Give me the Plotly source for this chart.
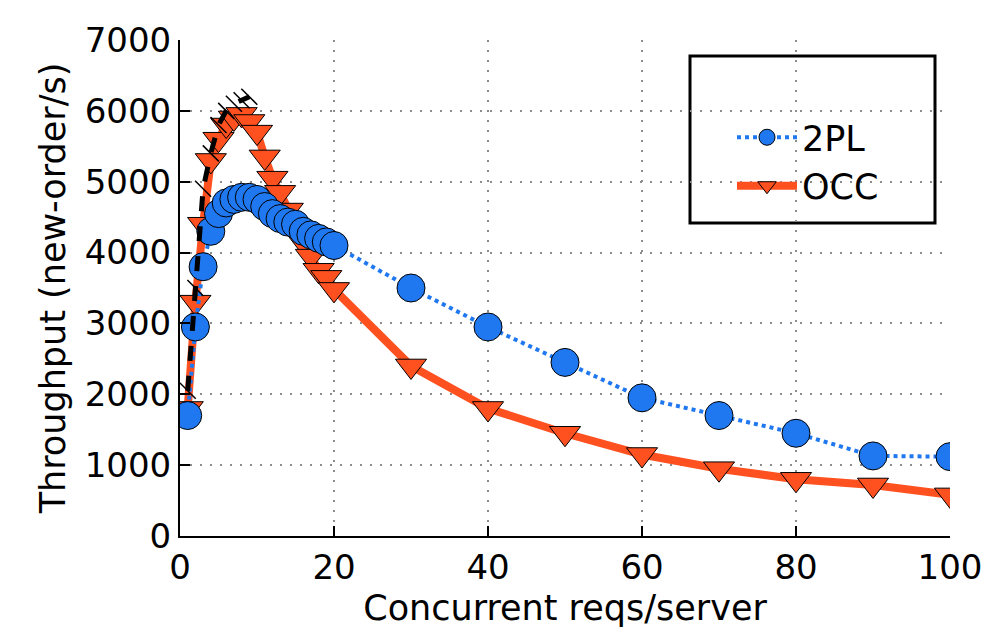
import plotly.graph_objects as go

x_vals = [1, 2, 3, 4, 5, 6, 7, 8, 9, 10, 11, 12, 13, 14, 15, 16, 17, 18, 19, 20,
          30, 40, 50, 60, 70, 80, 90, 100]
tpl_vals = [1700, 2950, 3800, 4300, 4550, 4700, 4750, 4780, 4780, 4750, 4650, 4550,
            4480, 4430, 4400, 4300, 4250, 4200, 4150, 4100,
            3500, 2950, 2450, 1950, 1700, 1450, 1130, 1120]
occ_vals = [1800, 3300, 4400, 5300, 5600, 5800, 5900, 5950, 5850, 5700, 5350, 5050,
            4850, 4600, 4350, 4150, 3950, 3750, 3650, 3480,
            2400, 1800, 1450, 1150, 950, 800, 720, 580]
extra_x = [1, 2, 3, 4, 5, 6, 7, 8, 9]
extra_vals = [2050, 3500, 4900, 5400, 5800, 6000, 6100, 6150, 6200]

x_ticks = [0, 20, 40, 60, 80, 100]
y_ticks = [0, 1000, 2000, 3000, 4000, 5000, 6000, 7000]

BLUE = "#1f78f0"
ORANGE = "#ff5020"
FONT = "DejaVu Sans"

# page offset of the html body (default 8px margin)
OFF = 8
PL, PR, PT, PB = 180, 950, 40, 536  # plot area in page pixels


def px_x(p):
    return (p - PL) / (PR - PL)


def px_y(p):
    return (PB - p) / (PB - PT)


fig = go.Figure()

fig.add_trace(go.Scatter(
    x=x_vals, y=occ_vals, name="OCC", mode="lines+markers",
    line=dict(color=ORANGE, width=8),
    marker=dict(symbol="triangle-down", size=27, color=ORANGE,
                line=dict(color="black", width=1)),
    legendrank=2,
))
fig.add_trace(go.Scatter(
    x=x_vals, y=tpl_vals, name="2PL", mode="lines+markers",
    line=dict(color=BLUE, width=4, dash="dot"),
    marker=dict(symbol="circle", size=28, color=BLUE,
                line=dict(color="black", width=1)),
    legendrank=1,
))
fig.add_trace(go.Scatter(
    x=extra_x, y=extra_vals, mode="lines+markers", showlegend=False,
    line=dict(color="black", width=5, dash="dash"),
    marker=dict(symbol="line-nw", size=16, color="black",
                line=dict(color="black", width=1.5)),
))

fig.add_shape(type="rect", xref="paper", yref="paper",
              x0=px_x(690), x1=px_x(935), y0=px_y(223), y1=px_y(56),
              line=dict(color="black", width=3), fillcolor="white", layer="below")

GRID = dict(showgrid=True, gridcolor="#8c8c8c", griddash="2px,8px", gridwidth=2)

fig.update_layout(
    width=991, height=640,
    paper_bgcolor="white", plot_bgcolor="white",
    margin=dict(l=PL - OFF, r=991 - (PR - OFF), t=PT - OFF, b=640 - (PB - OFF)),
    font=dict(family=FONT, size=34, color="black"),
    showlegend=True,
    legend=dict(x=px_x(732), y=px_y(108),
                xanchor="left", yanchor="top",
                bgcolor="rgba(0,0,0,0)", borderwidth=0,
                font=dict(family=FONT, size=35, color="black"),
                itemwidth=60, tracegroupgap=14, traceorder="normal"),
    xaxis=dict(range=[0, 100], tickvals=x_ticks, ticktext=[str(v) for v in x_ticks],
               showline=True, linecolor="black", linewidth=2,
               ticks="inside", ticklen=10, tickwidth=1.5, tickcolor="black",
               zeroline=False, mirror=False,
               title=dict(text="Concurrent reqs/server", font=dict(size=35), standoff=10),
               tickfont=dict(size=34), **GRID),
    yaxis=dict(range=[0, 7000], tickvals=y_ticks, ticktext=[str(v) for v in y_ticks],
               showline=True, linecolor="black", linewidth=2,
               ticks="inside", ticklen=10, tickwidth=1.5, tickcolor="black",
               zeroline=False, mirror=False,
               title=dict(text="Throughput (new-order/s)", font=dict(size=35), standoff=8),
               tickfont=dict(size=34), **GRID),
)

fig.write_html("out.html")
